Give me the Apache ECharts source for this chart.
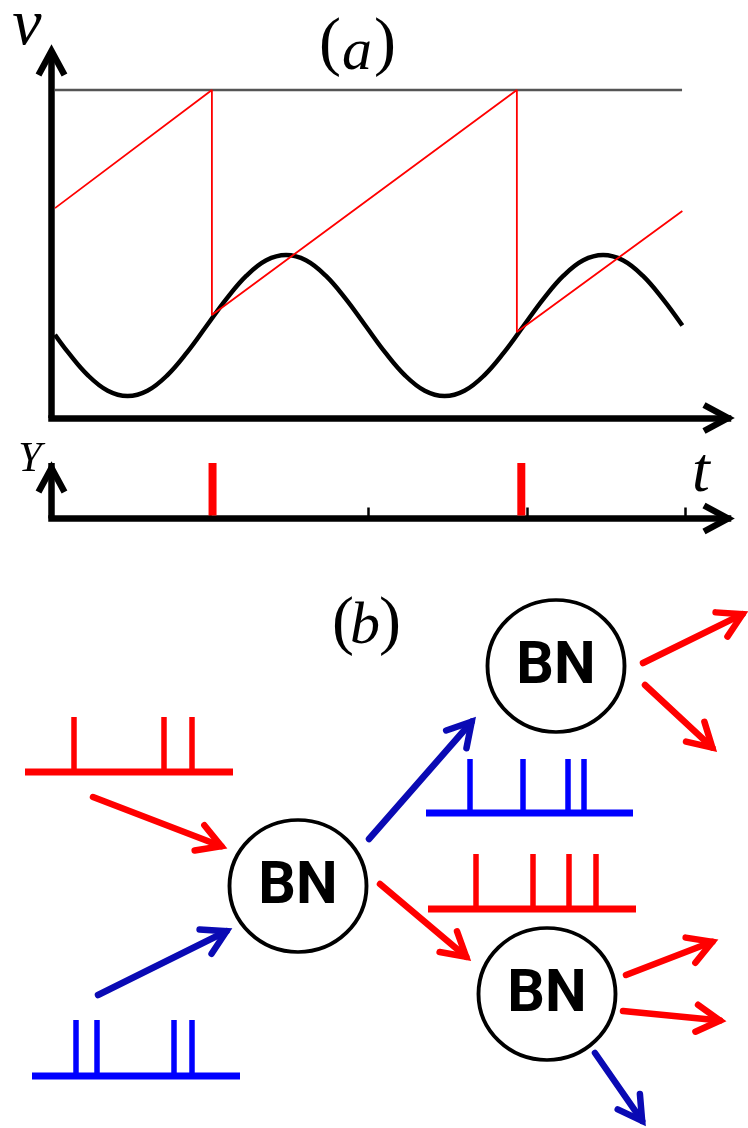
<!DOCTYPE html>
<html><head><meta charset="utf-8">
<script src="https://cdn.jsdelivr.net/npm/echarts@6/dist/echarts.min.js"></script>
<style>html,body{margin:0;padding:0;background:#fff}#c{width:748px;height:1128px}</style>
</head><body><div id="c"></div>
<script>
// ---------- panel (a): membrane potential v(t) ----------
const tTicks = [2.5, 5, 7.5, 10];
const sineT = [0.055, 0.2625, 0.575, 0.8875, 1.2, 1.5125, 1.825, 2.1375, 2.45, 2.7625, 3.075, 3.3875, 3.7, 4.0125, 4.325, 4.6375, 4.95, 5.2625, 5.575, 5.8875, 6.2, 6.5125, 6.825, 7.1375, 7.45, 7.7625, 8.075, 8.3875, 8.7, 9.0125, 9.325, 9.6375, 9.95];
const sineV = [0.254, 0.200, 0.130, 0.083, 0.067, 0.083, 0.130, 0.200, 0.282, 0.364, 0.434, 0.481, 0.497, 0.481, 0.434, 0.364, 0.282, 0.200, 0.130, 0.083, 0.067, 0.083, 0.130, 0.200, 0.282, 0.364, 0.434, 0.481, 0.497, 0.481, 0.434, 0.364, 0.282];
const sawT = [0.055, 2.53, 2.53, 7.34, 7.34, 9.95];
const sawV = [0.640, 1.0, 0.314, 1.0, 0.262, 0.631];
const thresholdT = [0.055, 9.945];
const thresholdV = [1.0, 1.0];
const spikeTimes = [2.54, 7.41];
const spikeHeights = [1, 1];

// ---------- panel (b): network diagram (diagram coordinates) ----------
const nodeX = [298, 556, 547];
const nodeY = [306, 86, 414];
const nodeText = ['BN', 'BN', 'BN'];
const redArrowFrom = [[93, 217], [380, 304], [643, 83], [645, 105], [626, 395], [623, 431]];
const redArrowTo   = [[226, 268], [470, 380], [747, 32], [716, 171], [717, 360], [725, 441]];
const blueArrowFrom = [[98, 415], [369, 259], [595, 473]];
const blueArrowTo   = [[231, 349], [475, 138], [645, 545]];
const trainSpikes = [[74, 164, 192], [76, 97, 174, 192], [470, 523, 568, 584], [476, 533, 569, 596]];
const trainBaseY  = [192, 496, 233, 329];
const trainTopY   = [137, 440, 179, 274];
const trainStartX = [25, 32, 426, 428];
const trainEndX   = [233, 240, 633, 636];

// ---------- styling ----------
const RED = '#ff0000', BLUE = '#0000ff', DARKBLUE = '#0a0ab4';
const trainColor = [RED, BLUE, BLUE, RED];
const SERIF = '"Liberation Serif","Times New Roman",serif';
const BNFONT = 'Roboto, "Liberation Sans", Arial, sans-serif';

const chart = echarts.init(document.getElementById('c'), null, {renderer: 'canvas'});

function chevron(params, api) {
  const p = api.coord([api.value(0), api.value(1)]);
  const dir = api.value(2), off = api.value(3);
  let pts;
  if (dir === 0) { const vx = p[0] + off, vy = p[1]; pts = [[vx - 24, vy - 13], [vx, vy], [vx - 24, vy + 13]]; }
  else { const vx = p[0], vy = p[1] + off; pts = [[vx - 13, vy + 24], [vx, vy], [vx + 13, vy + 24]]; }
  return {type: 'polyline', shape: {points: pts}, style: {stroke: '#000', lineWidth: 6.5, lineJoin: 'miter', lineCap: 'butt', fill: null}};
}

function arrowRender(color) {
  return function (params, api) {
    const a = api.coord([api.value(0), api.value(1)]);
    const b = api.coord([api.value(2), api.value(3)]);
    const dx = b[0] - a[0], dy = b[1] - a[1];
    const L = Math.hypot(dx, dy), ux = dx / L, uy = dy / L;
    const vx = b[0] - ux * 5, vy = b[1] - uy * 5;
    const ang = 30 * Math.PI / 180, len = 27;
    const bx = -ux, by = -uy, c = Math.cos(ang), s = Math.sin(ang);
    const p1 = [vx + len * (bx * c - by * s), vy + len * (bx * s + by * c)];
    const p2 = [vx + len * (bx * c + by * s), vy + len * (-bx * s + by * c)];
    return {type: 'group', children: [
      {type: 'line', shape: {x1: a[0], y1: a[1], x2: vx, y2: vy}, style: {stroke: color, lineWidth: 6.5, lineCap: 'round'}},
      {type: 'polyline', shape: {points: [p1, [vx, vy], p2]}, style: {stroke: color, lineWidth: 6.5, lineJoin: 'miter', lineCap: 'round', fill: null}}
    ]};
  };
}

const axisBase = {type: 'value', axisTick: {show: false}, axisLabel: {show: false}, splitLine: {show: false}};
const X_MAX = 10.67, V_MAX = 1.119;

const option = {
  animation: false,
  backgroundColor: '#fff',
  grid: [
    {left: 51.5, top: 51, width: 676.5, height: 367},
    {left: 51.5, top: 463, width: 676.5, height: 55.5},
    {left: 0, top: 580, width: 748, height: 548}
  ],
  xAxis: [
    Object.assign({}, axisBase, {gridIndex: 0, min: 0, max: X_MAX, axisLine: {show: true, onZero: false, lineStyle: {color: '#000', width: 6.5, cap: 'square'}}}),
    Object.assign({}, axisBase, {gridIndex: 1, min: 0, max: X_MAX, axisLine: {show: true, onZero: false, lineStyle: {color: '#000', width: 6.5, cap: 'square'}},
      axisTick: {show: true, inside: true, length: 11, customValues: tTicks, lineStyle: {color: '#000', width: 2.5}}}),
    Object.assign({}, axisBase, {gridIndex: 2, show: false, min: 0, max: 748})
  ],
  yAxis: [
    Object.assign({}, axisBase, {gridIndex: 0, min: 0, max: V_MAX, axisLine: {show: true, onZero: false, lineStyle: {color: '#000', width: 6.5, cap: 'butt'}}}),
    Object.assign({}, axisBase, {gridIndex: 1, min: 0, max: 1, axisLine: {show: true, onZero: false, lineStyle: {color: '#000', width: 6.5, cap: 'butt'}}}),
    Object.assign({}, axisBase, {gridIndex: 2, show: false, min: 0, max: 548, inverse: true})
  ],
  graphic: [
    {type: 'text', x: 27, y: 27, style: {text: 'v', font: 'italic 66px ' + SERIF, fill: '#000', align: 'center', verticalAlign: 'middle', textAlign: 'center', textVerticalAlign: 'middle'}},
    {type: 'text', x: 330, y: 46, style: {text: '(', font: '66px ' + SERIF, fill: '#000', align: 'center', verticalAlign: 'middle', textAlign: 'center', textVerticalAlign: 'middle'}},
    {type: 'text', x: 357, y: 53, style: {text: 'a', font: 'italic 60px ' + SERIF, fill: '#000', align: 'center', verticalAlign: 'middle', textAlign: 'center', textVerticalAlign: 'middle'}},
    {type: 'text', x: 385, y: 46, style: {text: ')', font: '66px ' + SERIF, fill: '#000', align: 'center', verticalAlign: 'middle', textAlign: 'center', textVerticalAlign: 'middle'}},
    {type: 'text', x: 30, y: 460, style: {text: 'Y', font: 'italic 42px ' + SERIF, fill: '#000', align: 'center', verticalAlign: 'middle', textAlign: 'center', textVerticalAlign: 'middle'}},
    {type: 'text', x: 701, y: 474, style: {text: 't', font: 'italic 64px ' + SERIF, fill: '#000', align: 'center', verticalAlign: 'middle', textAlign: 'center', textVerticalAlign: 'middle'}},
    {type: 'text', x: 343, y: 625, style: {text: '(', font: '66px ' + SERIF, fill: '#000', align: 'center', verticalAlign: 'middle', textAlign: 'center', textVerticalAlign: 'middle'}},
    {type: 'text', x: 365, y: 627, style: {text: 'b', font: 'italic 60px ' + SERIF, fill: '#000', align: 'center', verticalAlign: 'middle', textAlign: 'center', textVerticalAlign: 'middle'}},
    {type: 'text', x: 390, y: 625, style: {text: ')', font: '66px ' + SERIF, fill: '#000', align: 'center', verticalAlign: 'middle', textAlign: 'center', textVerticalAlign: 'middle'}}
  ],
  series: [
    {type: 'line', xAxisIndex: 0, yAxisIndex: 0, data: sineT.map((t, i) => [t, sineV[i]]), symbol: 'none', smooth: 0.4,
      lineStyle: {color: '#000', width: 4.5}, silent: true},
    {type: 'line', xAxisIndex: 0, yAxisIndex: 0, data: thresholdT.map((t, i) => [t, thresholdV[i]]), symbol: 'none',
      lineStyle: {color: '#555', width: 2.5}, silent: true},
    {type: 'line', xAxisIndex: 0, yAxisIndex: 0, data: sawT.map((t, i) => [t, sawV[i]]), symbol: 'none',
      lineStyle: {color: RED, width: 1.8}, silent: true},
    {type: 'custom', xAxisIndex: 0, yAxisIndex: 0, data: [[X_MAX, 0, 0, 0], [0, V_MAX, 1, 0]], renderItem: chevron, silent: true},
    {type: 'custom', xAxisIndex: 1, yAxisIndex: 1, data: [[X_MAX, 0, 0, 0], [0, 1, 1, 5]], renderItem: chevron, silent: true},
    {type: 'custom', xAxisIndex: 1, yAxisIndex: 1, data: spikeTimes.map((t, i) => [t, spikeHeights[i]]), silent: true,
      renderItem: function (params, api) {
        const p0 = api.coord([api.value(0), 0]);
        const p1 = api.coord([api.value(0), api.value(1)]);
        return {type: 'rect', shape: {x: p0[0] - 4, y: p1[1], width: 8, height: p0[1] - p1[1] - 3}, style: {fill: RED}};
      }},
    // ---- panel (b) ----
    {type: 'custom', xAxisIndex: 2, yAxisIndex: 2, silent: true,
      data: trainStartX.map((x, i) => [x, trainEndX[i], trainBaseY[i], i]),
      renderItem: function (params, api) {
        const a = api.coord([api.value(0), api.value(2)]);
        const b = api.coord([api.value(1), api.value(2)]);
        return {type: 'line', shape: {x1: a[0], y1: a[1], x2: b[0], y2: b[1]}, style: {stroke: trainColor[api.value(3)], lineWidth: 7}};
      }},
    {type: 'custom', xAxisIndex: 2, yAxisIndex: 2, silent: true,
      data: [].concat(...trainSpikes.map((sp, i) => sp.map(x => [x, trainBaseY[i], trainTopY[i], i]))),
      renderItem: function (params, api) {
        const a = api.coord([api.value(0), api.value(1)]);
        const b = api.coord([api.value(0), api.value(2)]);
        return {type: 'line', shape: {x1: a[0], y1: a[1], x2: b[0], y2: b[1]}, style: {stroke: trainColor[api.value(3)], lineWidth: 5.5}};
      }},
    {type: 'custom', xAxisIndex: 2, yAxisIndex: 2, silent: true,
      data: redArrowFrom.map((f, i) => [f[0], f[1], redArrowTo[i][0], redArrowTo[i][1]]), renderItem: arrowRender(RED)},
    {type: 'custom', xAxisIndex: 2, yAxisIndex: 2, silent: true,
      data: blueArrowFrom.map((f, i) => [f[0], f[1], blueArrowTo[i][0], blueArrowTo[i][1]]), renderItem: arrowRender(DARKBLUE)},
    {type: 'scatter', xAxisIndex: 2, yAxisIndex: 2, silent: true,
      data: nodeX.map((x, i) => [x, nodeY[i], nodeText[i]]),
      symbol: 'circle', symbolSize: [137, 132],
      itemStyle: {color: '#fff', borderColor: '#000', borderWidth: 3.8, opacity: 1},
      label: {show: true, position: 'inside', formatter: p => p.data[2], color: '#000', fontFamily: BNFONT, fontWeight: 'bold', fontSize: 59, offset: [0, 2]}}
  ]
};
chart.setOption(option);
</script></body></html>
